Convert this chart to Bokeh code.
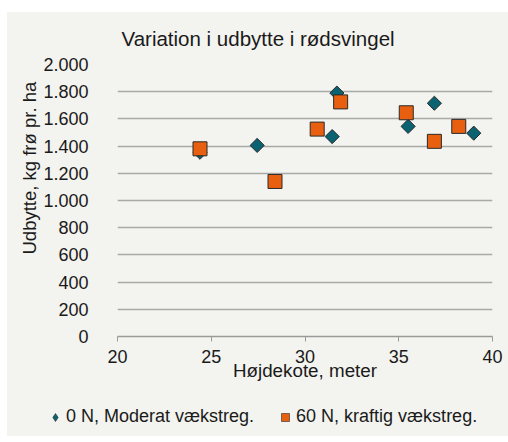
import math
from bokeh.plotting import figure
from bokeh.models import (ColumnDataSource, FixedTicker, Legend, LegendItem, Range1d, Title, Spacer)
from bokeh.layouts import column, row
from bokeh.embed import file_html
from bokeh.resources import INLINE

# ---- data ----
title_text = "Variation i udbytte i rødsvingel"
x_label = "Højdekote, meter"
y_label = "Udbytte, kg frø pr. ha"
series_names = ["0 N, Moderat vækstreg.", "60 N, kraftig vækstreg."]

hojde_0n = [24.4, 27.45, 31.7, 31.45, 35.5, 36.9, 39.0]
udbytte_0n = [1355, 1405, 1790, 1470, 1545, 1715, 1495]

hojde_60n = [24.4, 28.4, 30.65, 31.9, 35.4, 36.9, 38.2]
udbytte_60n = [1380, 1140, 1525, 1725, 1645, 1435, 1545]

x_ticks = [20, 25, 30, 35, 40]
y_ticks = [0, 200, 400, 600, 800, 1000, 1200, 1400, 1600, 1800, 2000]
y_tick_labels = ["0", "200", "400", "600", "800", "1.000", "1.200", "1.400",
                 "1.600", "1.800", "2.000"]

BG = "#F3F3EF"
TEAL = "#0B6270"
ORANGE = "#E8600F"
EDGE = "#2A2A2A"
FONT = "Liberation Sans"
TXT = "#1A1A1A"

p = figure(width=501, height=388, output_backend="svg", toolbar_location=None,
           x_range=Range1d(20, 40), y_range=Range1d(0, 2000),
           min_border_left=110, min_border_right=16, min_border_top=52,
           min_border_bottom=64)
p.background_fill_color = BG
p.border_fill_color = BG
p.outline_line_color = None

p.title = Title(text=title_text, align="left", offset=4, standoff=26,
                vertical_align="top",
                text_font=FONT, text_font_size="20.5px", text_font_style="normal",
                text_color=TXT)

# grid
p.xgrid.grid_line_color = None
p.ygrid.grid_line_color = "#A9A9A9"
p.ygrid.grid_line_width = 1.3
p.ygrid.ticker = FixedTicker(ticks=y_ticks)

# x axis
p.xaxis.ticker = FixedTicker(ticks=x_ticks)
p.xaxis.axis_line_color = "#9A9A9A"
p.xaxis.axis_line_width = 1.3
p.xaxis.major_tick_line_color = "#9A9A9A"
p.xaxis.major_tick_out = 5
p.xaxis.major_tick_in = 0
p.xaxis.minor_tick_line_color = None
p.xaxis.major_label_text_font = FONT
p.xaxis.major_label_text_font_size = "18px"
p.xaxis.major_label_text_color = TXT
p.xaxis.major_label_standoff = 8
p.xaxis.axis_label = x_label
p.xaxis.axis_label_text_font = FONT
p.xaxis.axis_label_text_font_size = "18.8px"
p.xaxis.axis_label_text_font_style = "normal"
p.xaxis.axis_label_text_color = TXT
p.xaxis.axis_label_standoff = -6

# y axis
p.yaxis.ticker = FixedTicker(ticks=y_ticks)
p.yaxis.major_label_overrides = {t: l for t, l in zip(y_ticks, y_tick_labels)}
p.yaxis.axis_line_color = None
p.yaxis.major_tick_line_color = None
p.yaxis.minor_tick_line_color = None
p.yaxis.major_label_text_font = FONT
p.yaxis.major_label_text_font_size = "18px"
p.yaxis.major_label_text_color = TXT
p.yaxis.major_label_standoff = 23

# y-axis title (placed off-centre like the original)
p.add_layout(Title(text=y_label, align="left", offset=82, standoff=2,
                   text_font=FONT, text_font_size="18.5px", text_font_style="normal",
                   text_color=TXT), "left")

# data
src0 = ColumnDataSource(dict(x=hojde_0n, y=udbytte_0n))
src60 = ColumnDataSource(dict(x=hojde_60n, y=udbytte_60n))

p.scatter("x", "y", source=src0, marker="square", size=10, angle=math.pi / 4,
          fill_color=TEAL, line_color=EDGE, line_width=1)
p.scatter("x", "y", source=src60, marker="square", size=14,
          fill_color=ORANGE, line_color=EDGE, line_width=1)

# legend strip
pl = figure(width=501, height=36, output_backend="svg", toolbar_location=None,
            x_range=Range1d(0, 1), y_range=Range1d(0, 1),
            x_axis_type=None, y_axis_type=None,
            min_border_left=0, min_border_right=0, min_border_top=0, min_border_bottom=0)
pl.background_fill_color = BG
pl.border_fill_color = BG
pl.outline_line_color = None
pl.grid.visible = False

# legend icon renderers (points lie outside the visible range)
leg0 = pl.scatter([-5], [-5], marker="diamond", size=10, fill_color=TEAL, line_color=EDGE, line_width=0.6)
leg60 = pl.scatter([-5], [-5], marker="square", size=10, fill_color=ORANGE, line_color=EDGE, line_width=0.6)

legend = Legend(items=[LegendItem(label=series_names[0], renderers=[leg0]),
                       LegendItem(label=series_names[1], renderers=[leg60])],
                orientation="horizontal", location=(38, 9),
                glyph_width=20, glyph_height=20, label_height=20,
                label_standoff=1, spacing=21, padding=0, margin=0,
                border_line_color=None, background_fill_alpha=0,
                label_text_font=FONT, label_text_font_size="18px",
                label_text_color=TXT)
pl.add_layout(legend, "center")

WHITE = {"background-color": "white"}
layout = column(Spacer(width=508, height=12, styles=WHITE),
                row(Spacer(width=7, height=388, styles=WHITE), p),
                row(Spacer(width=7, height=36, styles=WHITE), pl),
                styles={"background-color": BG})
open("out.html", "w").write(file_html(layout, INLINE))
